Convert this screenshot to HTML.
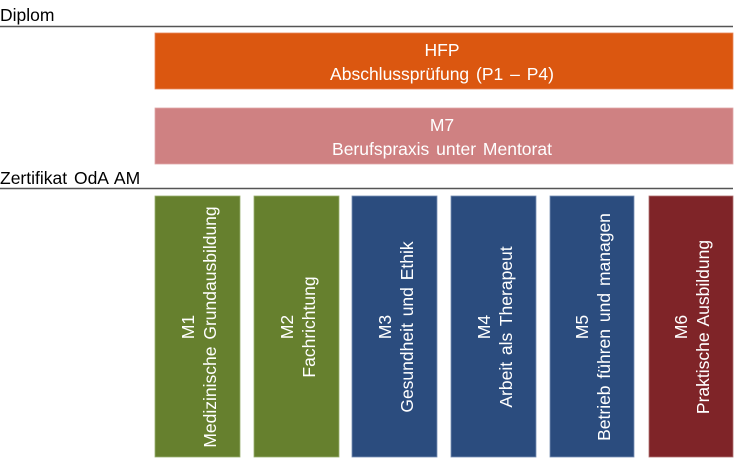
<!DOCTYPE html>
<html><head><meta charset="utf-8"><style>
body{margin:0;background:#fff}
svg{display:block}
text{font-family:"Liberation Sans",sans-serif}
</style></head><body>
<svg width="735" height="466" viewBox="0 0 735 466" xmlns="http://www.w3.org/2000/svg">
<text x="0" y="21" font-size="17.5" fill="#000">Diplom</text>
<line x1="0" y1="26.5" x2="733" y2="26.5" stroke="#555" stroke-width="1.5"/>
<rect x="155" y="33" width="578" height="56" fill="#db5710" stroke="#e8875a" stroke-width="0.8"/>
<text x="442" y="56" font-size="17.5" fill="#fff" text-anchor="middle">HFP</text>
<text x="442" y="80" font-size="17.5" word-spacing="2" fill="#fff" text-anchor="middle">Abschlussprüfung (P1 – P4)</text>
<rect x="155" y="108" width="578" height="56" fill="#cf8182" stroke="#e0a8a8" stroke-width="0.8"/>
<text x="442" y="131" font-size="17.5" fill="#fff" text-anchor="middle">M7</text>
<text x="442" y="155" font-size="17.5" word-spacing="2" fill="#fff" text-anchor="middle">Berufspraxis unter Mentorat</text>
<text x="0" y="184" font-size="17.5" word-spacing="2" fill="#000">Zertifikat OdA AM</text>
<line x1="0" y1="188.5" x2="733" y2="188.5" stroke="#555" stroke-width="1.5"/>
<g font-size="17.5" word-spacing="2" fill="#fff" text-anchor="middle">
<rect x="155" y="196" width="85" height="261" fill="#66802e" stroke="#9ab070" stroke-width="0.8"/>
<text transform="translate(194,327) rotate(-90)">M1</text>
<text transform="translate(216,327) rotate(-90)">Medizinische Grundausbildung</text>
<rect x="254" y="196" width="85" height="261" fill="#66802e" stroke="#9ab070" stroke-width="0.8"/>
<text transform="translate(293,327) rotate(-90)">M2</text>
<text transform="translate(315,327) rotate(-90)">Fachrichtung</text>
<rect x="352" y="196" width="85" height="261" fill="#2b4c7e" stroke="#7890b4" stroke-width="0.8"/>
<text transform="translate(391,327) rotate(-90)">M3</text>
<text transform="translate(413,327) rotate(-90)">Gesundheit und Ethik</text>
<rect x="451" y="196" width="85" height="261" fill="#2b4c7e" stroke="#7890b4" stroke-width="0.8"/>
<text transform="translate(490,327) rotate(-90)">M4</text>
<text transform="translate(512,327) rotate(-90)">Arbeit als Therapeut</text>
<rect x="550" y="196" width="84" height="261" fill="#2b4c7e" stroke="#7890b4" stroke-width="0.8"/>
<text transform="translate(588,327) rotate(-90)">M5</text>
<text transform="translate(610,327) rotate(-90)">Betrieb führen und managen</text>
<rect x="649" y="196" width="84" height="261" fill="#7f2428" stroke="#b07070" stroke-width="0.8"/>
<text transform="translate(687,327) rotate(-90)">M6</text>
<text transform="translate(709,327) rotate(-90)">Praktische Ausbildung</text>
</g>
</svg>
</body></html>
